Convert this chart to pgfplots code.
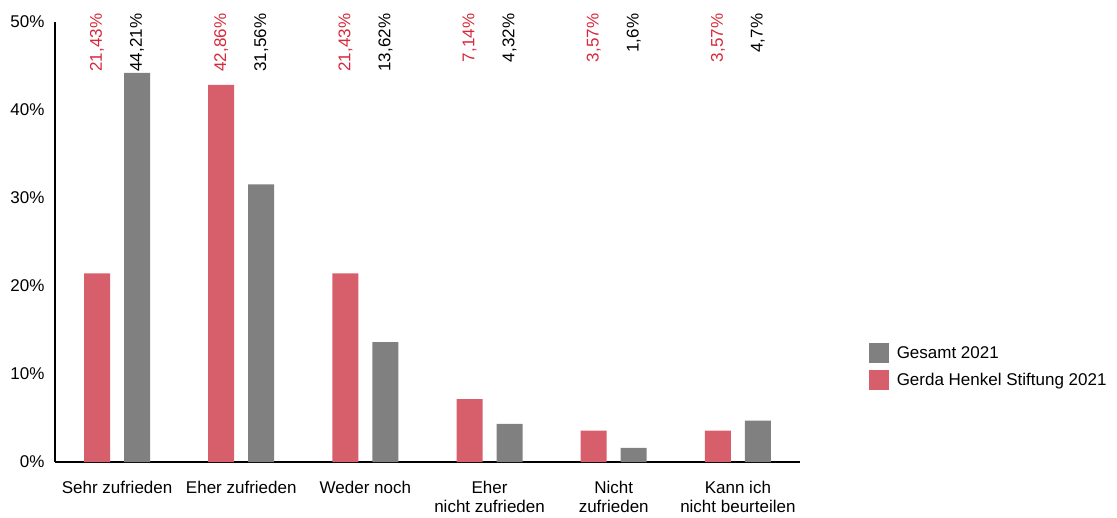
\documentclass[border=0pt]{standalone}
\usepackage{fontspec}
\setmainfont{Liberation Sans}
\usepackage{pgfplots}
\usepackage{pgfplotstable}
\pgfplotsset{compat=1.18}
\definecolor{barred}{RGB}{215,95,107}
\definecolor{bargray}{RGB}{128,128,128}
\definecolor{labelred}{RGB}{214,40,58}
\pgfplotstableread{
x red gray
0 21.43 44.21
1 42.86 31.56
2 21.43 13.62
3 7.14 4.32
4 3.57 1.6
5 3.57 4.7
}\data
\newcommand{\fs}{\fontsize{17}{19}\selectfont}
\begin{document}
\begin{tikzpicture}
\useasboundingbox (-55pt,-55pt) rectangle (1062pt,462pt);
\begin{axis}[
  at={(0pt,0pt)}, anchor=south west,
  scale only axis, width=745pt, height=440pt,
  xmin=-0.5, xmax=5.5, ymin=0, ymax=50,
  axis lines*=left,
  axis line style={line width=1.6pt, black},
  clip=false,
  major tick length=0pt,
  xtick=data,
  xticklabels={Sehr zufrieden, Eher zufrieden, Weder noch, {Eher\\nicht zufrieden}, {Nicht\\zufrieden}, {Kann ich\\nicht beurteilen}},
  xticklabel style={align=center, font=\fs, anchor=north, yshift=-17pt, inner sep=2pt},
  ytick={0,10,20,30,40,50},
  yticklabel={\pgfmathprintnumber{\tick}\%},
  yticklabel style={font=\fs, xshift=-7pt},
  /pgf/number format/.cd, use comma, 1000 sep={}, assume math mode=true, /pgfplots/.cd,
  reverse legend,
  legend image code/.code={\path[#1, draw=none] (0pt,-10pt) rectangle (20pt,10pt);},
  legend style={at={(1.088,0.275)}, anchor=north west, draw=none, font=\fs, row sep=7pt, cells={anchor=west},
    /tikz/every odd column/.append style={column sep=6pt}},
]
\addplot[ybar, bar width=26pt, bar shift=-20pt, fill=barred, draw=none] table[x=x,y=red]{\data};
\addlegendentry{Gerda Henkel Stiftung 2021}
\addplot[ybar, bar width=26pt, bar shift=20pt, fill=bargray, draw=none] table[x=x,y=gray]{\data};
\addlegendentry{Gesamt 2021}
\addplot[forget plot, draw=none, mark=none, point meta=\thisrow{red},
  nodes near coords={\pgfmathprintnumber{\pgfplotspointmeta}\%},
  every node near coord/.style={xshift=-20pt, rotate=90, anchor=east, text=labelred, font=\fs, inner sep=0pt}]
  table[x=x, y expr=50.95]{\data};
\addplot[forget plot, draw=none, mark=none, point meta=\thisrow{gray},
  nodes near coords={\pgfmathprintnumber{\pgfplotspointmeta}\%},
  every node near coord/.style={xshift=20pt, rotate=90, anchor=east, text=black, font=\fs, inner sep=0pt}]
  table[x=x, y expr=50.95]{\data};
\end{axis}
\end{tikzpicture}
\end{document}
